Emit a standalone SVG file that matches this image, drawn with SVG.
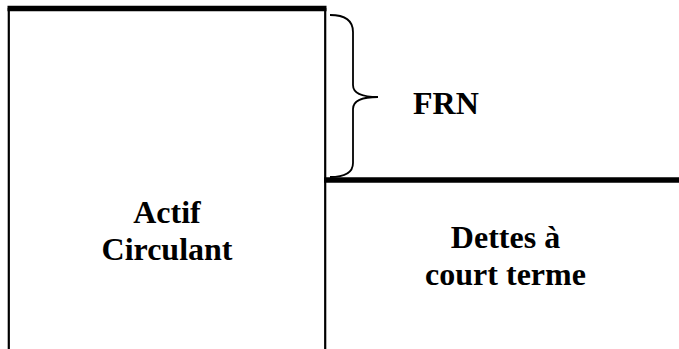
<svg xmlns="http://www.w3.org/2000/svg" width="679" height="349" viewBox="0 0 679 349">
<style>
.thick{stroke:#000;stroke-width:5.5;fill:none}
.thin{stroke:#000;stroke-width:2.2;fill:none}
.brace{stroke:#000;stroke-width:1.8;fill:none}
.lbl{font-family:"Liberation Serif","Times New Roman",serif;font-weight:bold;font-size:32px;fill:#000}
</style>
<rect width="679" height="349" fill="#fff"/>
<g id="connectors">
<line class="thick" x1="7.5" y1="8.5" x2="326.5" y2="8.5"/>
<line class="thin" x1="8.8" y1="8" x2="8.8" y2="349"/>
<line class="thin" x1="325.2" y1="8" x2="325.2" y2="349"/>
<line class="thick" x1="324" y1="180" x2="679" y2="180"/>
<path class="brace" d="M330,15 C345,15 353,20 353,32 L353,85 C353,93 362,97 378,97 C362,97 353,101 353,109 L353,163 C353,172 345,177 330,177"/>
</g>
<g id="actif">
<text class="lbl" x="167" y="223" text-anchor="middle">Actif</text>
<text class="lbl" x="167" y="260" text-anchor="middle">Circulant</text>
</g>
<g id="frn">
<text class="lbl" x="413" y="114">FRN</text>
</g>
<g id="dettes">
<text class="lbl" x="505.5" y="248" text-anchor="middle">Dettes à</text>
<text class="lbl" x="505.5" y="285" text-anchor="middle">court terme</text>
</g>
</svg>
